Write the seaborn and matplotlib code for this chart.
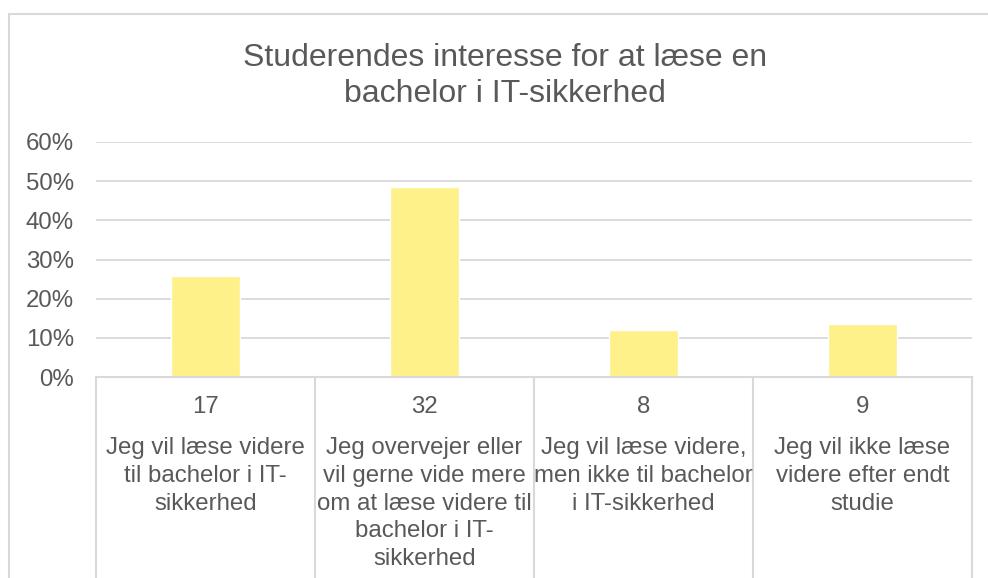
import matplotlib
matplotlib.use("Agg")
import matplotlib.pyplot as plt
import seaborn as sns
import pandas as pd
from matplotlib.ticker import PercentFormatter
from matplotlib.lines import Line2D

# ---- data ----
categories = [
    "Jeg vil læse videre\ntil bachelor i IT-\nsikkerhed",
    "Jeg overvejer eller\nvil gerne vide mere\nom at læse videre til\nbachelor i IT-\nsikkerhed",
    "Jeg vil læse videre,\nmen ikke til bachelor\ni IT-sikkerhed",
    "Jeg vil ikke læse\nvidere efter endt\nstudie",
]
counts = [17, 32, 8, 9]
shares = [0.2576, 0.4848, 0.1212, 0.1364]
yticks = [0, 0.1, 0.2, 0.3, 0.4, 0.5, 0.6]
title = "Studerendes interesse for at læse en\nbachelor i IT-sikkerhed"

df = pd.DataFrame({"cat": categories, "share": shares, "count": counts})

sns.set_theme(style="white")
plt.rcParams["font.family"] = ["Liberation Sans", "DejaVu Sans"]

TXT = "#595959"
GRID = "#D9D9D9"
FS = 17.3
W, H = 988, 578
fig = plt.figure(figsize=(W / 100, H / 100), dpi=100)
ax = fig.add_axes([96 / W, 1 - 377 / H, (972 - 96) / W, (377 - 142) / H])

sns.barplot(data=df, x="cat", y="share", order=categories, color="#FFF18A",
            saturation=1, width=0.315, ax=ax)

ax.set_xlim(-0.5, len(categories) - 0.5)
ax.set_ylim(0, 0.6)
ax.set_yticks(yticks)
ax.yaxis.set_major_formatter(PercentFormatter(1.0, decimals=0))
ax.tick_params(axis="y", length=0, pad=16, labelsize=FS, labelcolor=TXT)
ax.set_xticks([])
ax.set_xlabel("")
ax.set_ylabel("")
ax.yaxis.grid(True, color=GRID, lw=1.3)
ax.set_axisbelow(True)
for s in ["top", "right", "left"]:
    ax.spines[s].set_visible(False)
ax.spines["bottom"].set_color(GRID)
ax.spines["bottom"].set_linewidth(1.5)

trans = ax.get_xaxis_transform()
ah = 377 - 142
for i in range(len(categories) + 1):
    ax.plot([i - 0.5, i - 0.5], [0, -1.0], transform=trans, color=GRID, lw=1.5,
            clip_on=False)

for i, (c, n) in enumerate(zip(categories, counts)):
    ax.text(i, (377 - 407) / ah, str(n), transform=trans, ha="center", va="center",
            fontsize=FS, color=TXT)
    ax.text(i, (377 - 437) / ah, c, transform=trans, ha="center", va="top",
            fontsize=FS, color=TXT, linespacing=1.34)

fig.text(505 / W, 1 - 76 / H, title, ha="center", va="center", fontsize=23,
         color=TXT, linespacing=1.27)

# chart border
fig.add_artist(Line2D([9 / W, 9 / W], [0, 1 - 14 / H], transform=fig.transFigure,
                      color=GRID, lw=1.5))
fig.add_artist(Line2D([9 / W, 1], [1 - 14 / H, 1 - 14 / H], transform=fig.transFigure,
                      color=GRID, lw=1.5))

fig.savefig("out.png", dpi=100)
